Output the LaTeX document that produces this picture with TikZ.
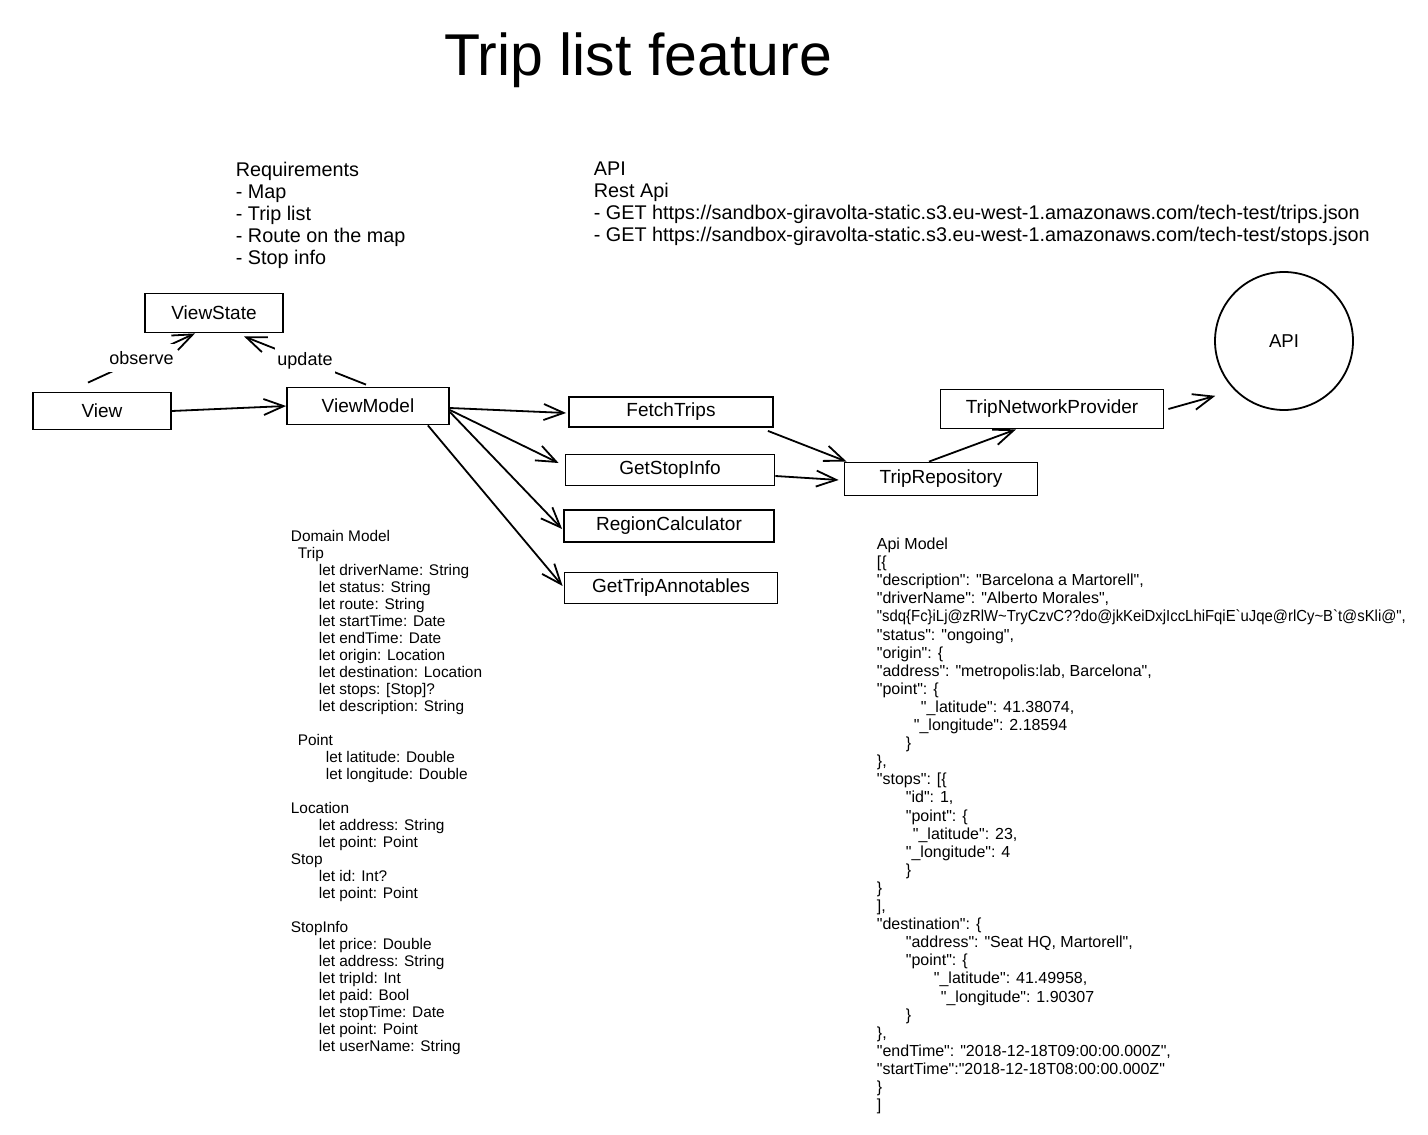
\documentclass[tikz,border=0pt]{standalone}
\usepackage{fontspec}
\setmainfont{Liberation Sans}[Ligatures=TeXOff]
\usetikzlibrary{arrows.meta}

\begin{document}
\begin{tikzpicture}[x=0.5pt,y=-0.5pt,line width=0.9pt,
    box/.style={draw, inner sep=0pt, font=\fontsize{9.5}{11}\selectfont},
    arr/.style={-{Straight Barb[length=10pt,width=8pt]}},
    lbl/.style={fill=white, inner xsep=1pt, inner ysep=3.5pt, font=\fontsize{9}{11}\selectfont},
    note/.style={anchor=north west, align=left, inner sep=0pt}]

    % Canvas
    \fill[white] (0,0) rectangle (1428,1134);
    \useasboundingbox (0,0) rectangle (1428,1134);

    % Title
    \node[font=\fontsize{29.5}{33}\selectfont] (title) at (638,60) {Trip list feature};

    % Requirements and API notes
    \node[note, font=\fontsize{9.9}{11}\selectfont] (req) at (235,161)
        {Requirements\\ - Map\\ - Trip list\\ - Route on the map\\ - Stop info};
    \node[note, font=\fontsize{9.9}{11}\selectfont] (apinote) at (593,161)
        {API\\ Rest Api\\
         - GET https://sandbox-giravolta-static.s3.eu-west-1.amazonaws.com/tech-test/trips.json\\
         - GET https://sandbox-giravolta-static.s3.eu-west-1.amazonaws.com/tech-test/stops.json};

    % Boxes
    \node[box, minimum width=69pt, minimum height=19.5pt] (viewstate) at (214,313) {ViewState};
    \node[box, minimum width=69pt, minimum height=18.5pt] (view) at (102,411) {View};
    \node[box, minimum width=81pt, minimum height=18.5pt] (viewmodel) at (368,406) {ViewModel};
    \node[box, minimum width=102pt, minimum height=15pt] (fetch) at (671,412) {FetchTrips};
    \node[box, minimum width=104.5pt, minimum height=15.5pt] (getstop) at (670,470) {GetStopInfo};
    \node[box, minimum width=105pt, minimum height=16pt] (region) at (669,526) {RegionCalculator};
    \node[box, minimum width=106.5pt, minimum height=15.5pt] (tripann) at (671,588) {GetTripAnnotables};
    \node[box, minimum width=96.5pt, minimum height=16.5pt] (repo) at (941,479) {TripRepository};
    \node[box, minimum width=111.5pt, minimum height=19.5pt] (network) at (1052,409) {TripNetworkProvider};
    \node[draw, circle, inner sep=0pt, minimum size=69pt, font=\fontsize{9.3}{11}\selectfont] (api) at (1284,341) {API};

    % Connectors
    \draw[arr] ([xshift=-7pt,yshift=4.5pt]view.north) -- node[lbl] {observe} ([xshift=-9.5pt]viewstate.south);
    \draw[arr] ([xshift=-1pt,yshift=1pt]viewmodel.north) -- node[lbl] {update} ([xshift=15pt,yshift=-1.5pt]viewstate.south);
    \draw[arr] (view.east) -- (viewmodel.west);
    \draw[arr] ([yshift=-1pt]viewmodel.east) -- ([xshift=-1pt,yshift=-0.5pt]fetch.west);
    \draw[arr] ([yshift=-2pt]viewmodel.east) -- ([xshift=-3pt,yshift=3.5pt]getstop.west);
    \draw[arr] ([yshift=-3pt]viewmodel.east) -- ([xshift=-0.5pt,yshift=-1.5pt]region.west);
    \draw[arr] ([xshift=-11pt]viewmodel.south east) -- ([xshift=-0.5pt,yshift=1pt]tripann.west);
    \draw[arr] ([xshift=-3pt,yshift=-1.5pt]fetch.south east) -- ([xshift=1.5pt]repo.north west);
    \draw[arr] ([yshift=-3pt]getstop.east) -- ([xshift=-2.5pt,yshift=-0.5pt]repo.west);
    \draw[arr] ([xshift=-6pt]repo.north) -- ([xshift=-18pt]network.south);
    \draw[arr, shorten >=10pt] ([xshift=2pt]network.east) -- (api.south west);

    % Domain model
    \node[note, font=\fontsize{7.7}{8.5}\selectfont] (domain) at (290,529)
        {Domain Model\\
         \hspace*{3.5pt}Trip\\
         \hspace*{14pt}let driverName: String\\
         \hspace*{14pt}let status: String\\
         \hspace*{14pt}let route: String\\
         \hspace*{14pt}let startTime: Date\\
         \hspace*{14pt}let endTime: Date\\
         \hspace*{14pt}let origin: Location\\
         \hspace*{14pt}let destination: Location\\
         \hspace*{14pt}let stops: [Stop]?\\
         \hspace*{14pt}let description: String\\[8.5pt]
         \hspace*{3.5pt}Point\\
         \hspace*{17.5pt}let latitude: Double\\
         \hspace*{17.5pt}let longitude: Double\\[8.5pt]
         Location\\
         \hspace*{14pt}let address: String\\
         \hspace*{14pt}let point: Point\\
         Stop\\
         \hspace*{14pt}let id: Int?\\
         \hspace*{14pt}let point: Point\\[8.5pt]
         StopInfo\\
         \hspace*{14pt}let price: Double\\
         \hspace*{14pt}let address: String\\
         \hspace*{14pt}let tripId: Int\\
         \hspace*{14pt}let paid: Bool\\
         \hspace*{14pt}let stopTime: Date\\
         \hspace*{14pt}let point: Point\\
         \hspace*{14pt}let userName: String};

    % Api model
    \node[note, font=\fontsize{8}{9.05}\selectfont] (apimodel) at (876,537)
        {Api Model\\
         {[}\{\\
         "description": "Barcelona a Martorell",\\
         "driverName": "Alberto Morales",\\
         \resizebox{264.5pt}{\height}{"sdq\{Fc\}iLj@zRlW\textasciitilde TryCzvC??do@jkKeiDxjIccLhiFqiE\textasciigrave uJqe@rlCy\textasciitilde B\textasciigrave t@sKli@",}\\
         "status": "ongoing",\\
         "origin": \{\\
         "address": "metropolis:lab, Barcelona",\\
         "point": \{\\
         \hspace*{22pt}"\_latitude": 41.38074,\\
         \hspace*{18.5pt}"\_longitude": 2.18594\\
         \hspace*{14.5pt}\}\\
         \},\\
         "stops": {[}\{\\
         \hspace*{14.5pt}"id": 1,\\
         \hspace*{14.5pt}"point": \{\\
         \hspace*{18pt}"\_latitude": 23,\\
         \hspace*{14.5pt}"\_longitude": 4\\
         \hspace*{14.5pt}\}\\
         \}\\
         {]},\\
         "destination": \{\\
         \hspace*{14.5pt}"address": "Seat HQ, Martorell",\\
         \hspace*{14.5pt}"point": \{\\
         \hspace*{28.5pt}"\_latitude": 41.49958,\\
         \hspace*{32pt}"\_longitude": 1.90307\\
         \hspace*{14.5pt}\}\\
         \},\\
         "endTime": "2018-12-18T09:00:00.000Z",\\
         "startTime":"2018-12-18T08:00:00.000Z"\\
         \}\\
         {]}};
\end{tikzpicture}
\end{document}
